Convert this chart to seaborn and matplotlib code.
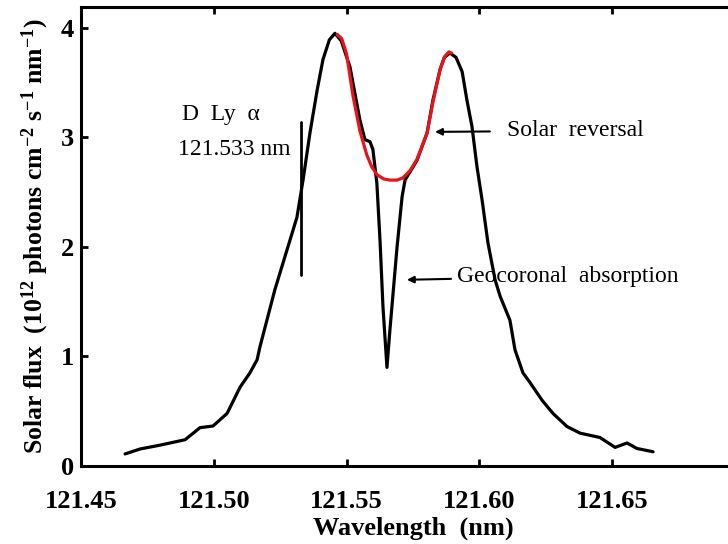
import matplotlib
matplotlib.use("Agg")
import matplotlib.pyplot as plt
import seaborn as sns
import pandas as pd

# Measured solar Lyman-alpha profile (black)
wavelength = [121.4666, 121.4722, 121.4797, 121.4892, 121.4948, 121.4997, 121.5050,
              121.5099, 121.5136, 121.5163, 121.5174, 121.5230, 121.5313, 121.5336,
              121.5362, 121.5389, 121.5411, 121.5435, 121.5456, 121.5480, 121.5513,
              121.5550, 121.5569, 121.5588, 121.5599, 121.5614, 121.5626, 121.5637,
              121.5652, 121.5663, 121.5690, 121.5709, 121.5720, 121.5765, 121.5803,
              121.5825, 121.5852, 121.5868, 121.5889, 121.5912, 121.5935, 121.5953,
              121.5972, 121.5991, 121.6010, 121.6032, 121.6059, 121.6078, 121.6115,
              121.6134, 121.6164, 121.6191, 121.6236, 121.6277, 121.6330, 121.6379,
              121.6454, 121.6511, 121.6556, 121.6593, 121.6654]
flux = [0.11, 0.155, 0.19, 0.24, 0.35, 0.365, 0.48,
        0.72, 0.85, 0.97, 1.09, 1.61, 2.27, 2.61,
        3.04, 3.43, 3.71, 3.89, 3.95, 3.88, 3.64,
        3.16, 2.98, 2.96, 2.89, 2.58, 2.05, 1.45,
        0.90, 1.24, 2.00, 2.46, 2.61, 2.79, 3.04,
        3.34, 3.62, 3.73, 3.77, 3.73, 3.60, 3.34,
        3.10, 2.73, 2.43, 2.04, 1.70, 1.55, 1.33,
        1.06, 0.85, 0.76, 0.60, 0.48, 0.36, 0.30,
        0.26, 0.17, 0.21, 0.16, 0.13]

# Solar reversal fit (red)
red_wl = [121.5465, 121.5482, 121.5500, 121.5524, 121.5550, 121.5576, 121.5595,
          121.5614, 121.5640, 121.5663, 121.5690, 121.5712, 121.5740, 121.5765,
          121.5803, 121.5825, 121.5852, 121.5870, 121.5885, 121.5895]
red_flux = [3.94, 3.90, 3.76, 3.38, 3.06, 2.84, 2.73,
            2.66, 2.62, 2.61, 2.61, 2.63, 2.70, 2.80,
            3.04, 3.32, 3.62, 3.74, 3.78, 3.77]

x_ticks = [121.45, 121.50, 121.55, 121.60, 121.65]
x_tick_labels = ["121.45", "121.50", "121.55", "121.60", "121.65"]
y_ticks = [0, 1, 2, 3, 4]
d_lya = 121.533

sns.set_style("ticks")
plt.rcParams["font.family"] = ["Liberation Serif", "DejaVu Serif"]
plt.rcParams["text.color"] = "black"
plt.rcParams["axes.labelcolor"] = "black"
plt.rcParams["mathtext.fontset"] = "custom"
plt.rcParams["mathtext.rm"] = "Liberation Serif"
plt.rcParams["mathtext.bf"] = "Liberation Serif:bold"
plt.rcParams["mathtext.it"] = "Liberation Serif:italic"

fig = plt.figure(figsize=(7.28, 5.44), dpi=100)
ax = fig.add_axes([81/728, 78/544, (745-81)/728, (466-7)/544])

df = pd.DataFrame({"wl": wavelength, "flux": flux})
dfr = pd.DataFrame({"wl": red_wl, "flux": red_flux})
sns.lineplot(data=df, x="wl", y="flux", ax=ax, color="black", linewidth=2.3, sort=False)
sns.lineplot(data=dfr, x="wl", y="flux", ax=ax, color="#e8141c", linewidth=2.3, sort=False)

ax.set_xlim(121.45, 121.70)
ax.set_ylim(0, 4.19)
ax.set_xticks(x_ticks)
ax.set_xticklabels(x_tick_labels)
ax.set_yticks(y_ticks)
for s in ax.spines.values():
    s.set_linewidth(2.2)
    s.set_color("black")
ax.tick_params(axis="both", direction="in", length=5, width=2, colors="black",
               labelsize=19, top=True, right=True)
ax.tick_params(axis="x", pad=17)
ax.tick_params(axis="y", pad=5)
for lab in ax.get_xticklabels() + ax.get_yticklabels():
    lab.set_fontweight("bold")

ax.set_xlabel("Wavelength  (nm)", fontsize=19, fontweight="bold", labelpad=3)
ax.set_ylabel(r"Solar flux  (10$^{\mathbf{12}}$ photons cm$^{\mathbf{-2}}$ s$^{\mathbf{-1}}$ nm$^{\mathbf{-1}}$)",
              fontsize=18.5, fontweight="bold", labelpad=7)

# D Ly alpha marker
ax.plot([d_lya, d_lya], [1.74, 3.14], color="black", linewidth=2)
ax.text(121.488, 3.21, "D  Ly  α", fontsize=17, va="center", ha="left")
ax.text(121.4865, 2.89, "121.533 nm", fontsize=17, va="center", ha="left")

ax.annotate("Solar  reversal", xy=(121.5833, 3.05), xytext=(121.6104, 3.06),
            fontsize=17, va="center", ha="left",
            arrowprops=dict(arrowstyle="-|>", color="black", lw=1.5, mutation_scale=10,
                            shrinkA=10, shrinkB=0))
ax.annotate("Geocoronal  absorption", xy=(121.5727, 1.70), xytext=(121.5916, 1.73),
            fontsize=17, va="center", ha="left",
            arrowprops=dict(arrowstyle="-|>", color="black", lw=1.5, mutation_scale=10,
                            shrinkA=2, shrinkB=0))

fig.savefig("out.png", dpi=100)
